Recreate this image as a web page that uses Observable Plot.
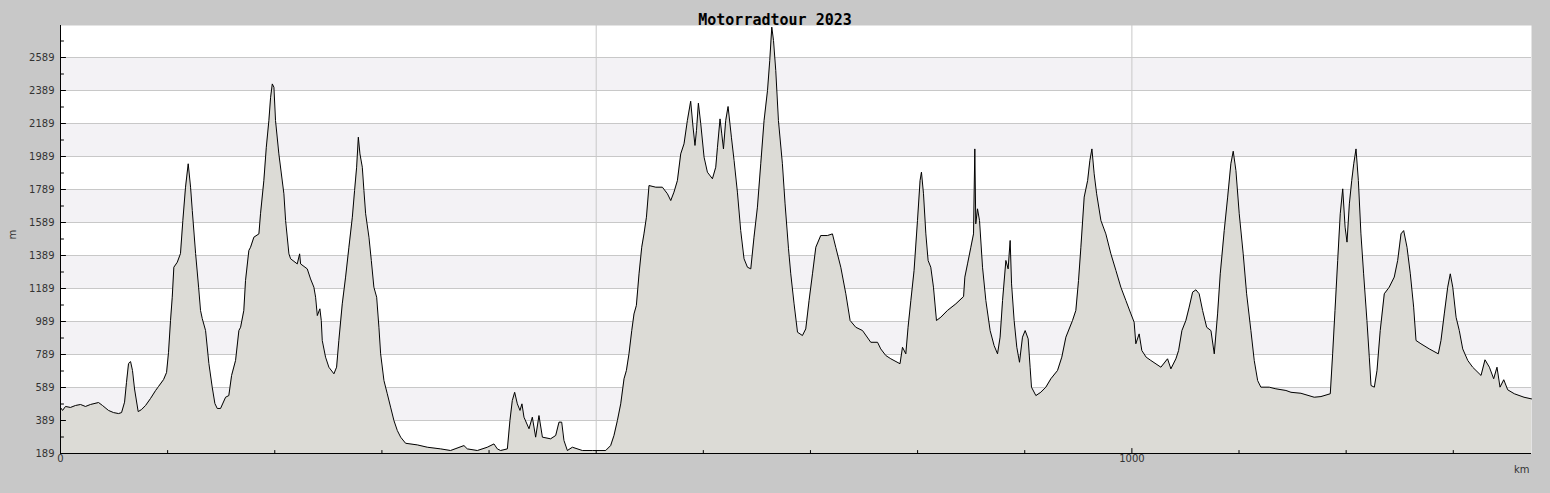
<!DOCTYPE html>
<html><head><meta charset="utf-8">
<script src="https://cdn.jsdelivr.net/npm/d3@7"></script>
<script src="https://cdn.jsdelivr.net/npm/@observablehq/plot@0.6"></script>
<style>
html,body{margin:0;padding:0;background:#c8c8c8;}
#chart{width:1550px;height:493px;}
</style></head><body><div id="chart"></div>
<script>
const title = "Motorradtour 2023";
const km = [0,1.9,4.7,9.3,14.0,18.7,23.3,28.0,35.5,39.2,44.8,49.5,54.2,57.0,59.8,61.6,63.5,65.4,67.2,69.1,72.5,75.6,79.4,84.0,88.7,91.5,96.2,99.0,100.8,102.7,104.3,105.8,109.0,112.0,114.2,116.7,119.2,121.4,123.0,126.1,128.9,130.7,132.3,135.4,138.5,141.6,144.1,146.3,149.4,154.1,157.1,159.7,163.4,166.5,168.1,171.1,172.7,175.8,177.4,180.5,185.2,186.7,189.8,192.1,194.5,196.1,197.7,199.2,200.7,203.8,208.5,210.1,213.2,214.8,221.0,223.2,224.1,
230.3,233.4,236.5,238.1,239.7,242.1,243.4,244.3,247.4,250.5,255.2,257.7,259.8,263.0,266.1,269.2,272.4,274.5,276.4,278.0,279.5,281.7,283.2,284.8,287.9,290.1,292.5,295.1,297.2,298.8,301.9,305.0,308.1,311.2,314.4,317.5,322.1,333.1,342.4,354.8,364.1,376.6,379.7,389.1,398.4,404.6,407.7,410.8,417.1,419.5,421.7,423.9,426.4,428.9,430.7,432.6,437.3,440.4,443.5,446.6,449.8,457.5,
462.2,465.3,467.8,469.9,473.1,477.8,487.1,496.4,508.9,513.5,516.6,519.8,522.9,526.0,528.2,530.6,533.2,535.3,537.5,540.0,542.5,544.6,546.9,549.3,555.6,561.8,566.5,569.6,572.6,575.8,578.9,582.0,585.1,588.2,590.4,592.2,593.6,595.4,597.6,600.7,603.8,608.5,611.6,613.2,615.6,617.2,618.8,620.9,623.1,626.2,628.7,631.8,634.9,638.0,641.2,644.3,647.3,650.5,653.6,656.7,659.9,662.0,663.9,665.5,667.6,670.1,673.8,676.3,679.5,
681.6,684.7,687.9,692.5,695.6,698.7,701.9,705.0,709.6,715.9,720.5,723.6,728.3,733.0,737.0,742.3,748.6,756.3,762.6,765.6,770.3,775.0,783.6,785.9,789.0,791.1,793.7,796.7,799.9,802.3,803.6,805.5,807.7,809.8,812.3,814.8,817.6,821.7,827.9,835.7,842.9,844.1,846.6,849.7,852.2,853.4,854.3,855.9,857.8,860.6,863.7,867.7,871.4,874.6,877.0,879.3,882.4,884.5,886.4,887.7,890.1,892.6,895.1,897.9,900.4,903.2,905.0,906.3,910.4,915.0,
919.7,924.4,930.6,934.6,938.4,944.6,947.7,950.2,952.4,955.5,958.7,960.8,962.7,964.8,967.1,971.1,975.7,980.4,985.1,989.7,994.4,999.1,1002.1,1003.7,1006.8,1009.3,1013.3,1017.7,1027.1,1033.3,1036.4,1041.1,1043.6,1046.7,1050.4,1053.5,1056.7,1059.8,1062.8,1066.0,1069.8,1073.8,1076.9,1080.0,1082.5,1086.2,1089.4,1092.4,1094.6,1097.1,1100.2,1103.9,1107.1,1111.1,1114.2,1117.4,1120.4,1128.2,1134.4,1143.8,
1148.5,1157.8,1170.2,1176.5,1185.2,1187.4,1189.6,1192.1,1194.5,1196.8,1199.0,1200.8,1203.0,1205.2,1207.1,1209.2,1211.4,1213.8,1216.3,1219.4,1221.6,1223.2,1226.3,1228.8,1231.8,1235.6,1240.2,1244.9,1248.1,1251.2,1253.7,1256.8,1259.9,1263.0,1265.2,1269.8,1277.6,1286.0,1288.5,1291.6,1294.8,1297.2,1299.5,1302.6,1305.6,1308.8,1313.5,1318.1,1325.9,1329.6,1333.7,1337.7,1340.8,1343.6,1347.1,1350.8,1357.0,1366.0,1373.0];
const elevation = [468,450,474,468,480,486,474,486,498,480,450,437,431,437,500,620,734,746,692,580,443,455,480,522,570,595,637,680,800,995,1136,1318,1348,1401,1601,1803,1945,1803,1662,1401,1197,1056,1007,934,734,591,492,462,462,530,540,662,753,934,954,1056,1237,1419,1439,1500,1520,1642,1843,2045,2207,2348,2429,2409,2207,2005,1763,1601,1399,1369,1338,1399,1338,
1308,1247,1197,1136,1025,1066,995,874,773,712,672,712,874,1096,1258,1439,1621,1783,1924,2106,2005,1924,1783,1642,1500,1359,1197,1136,954,793,631,551,470,389,328,288,251,241,227,217,207,237,217,207,227,247,217,207,217,389,510,560,490,450,490,409,339,409,288,419,288,278,
298,379,379,268,207,227,207,207,207,237,298,389,490,642,692,793,934,1035,1086,1278,1439,1520,1621,1813,1803,1803,1763,1722,1773,1843,2005,2066,2207,2324,2167,2056,2146,2312,2187,1985,1894,1854,1924,2045,2217,2126,2035,2207,2292,2106,1965,1773,1540,1369,1318,1308,1500,1682,1945,2207,2389,2571,2773,2692,2510,2207,1945,1702,1430,
1278,1096,924,904,944,1116,1278,1439,1510,1510,1520,1439,1318,1157,995,954,934,863,863,823,783,763,733,833,793,954,1116,1298,1601,1843,1894,1763,1520,1359,1318,1197,995,1015,1056,1096,1140,1258,1338,1439,1520,2035,1581,1672,1601,1318,1116,934,843,793,894,1116,1359,1308,1480,1217,995,833,742,894,934,884,712,591,540,560,
591,642,692,773,894,995,1056,1237,1439,1743,1843,1965,2035,1884,1763,1601,1520,1399,1298,1197,1116,1035,985,854,914,813,773,753,712,763,702,763,813,934,995,1076,1167,1181,1157,1056,954,934,793,1035,1278,1540,1743,1945,2021,1904,1642,1399,1157,934,753,631,591,591,581,571,
560,554,530,534,551,793,1056,1359,1642,1793,1561,1470,1702,1843,1945,2035,1843,1520,1278,995,773,601,591,692,934,1157,1197,1258,1359,1520,1540,1439,1278,1076,874,854,823,793,874,1035,1197,1278,1197,1015,934,823,753,712,662,757,712,642,712,591,636,575,551,530,520];
const xDomain = [0, 1373];
const yDomain = [189, 2783];
const yTickValues = [189,389,589,789,989,1189,1389,1589,1789,1989,2189,2389,2589];
const yMinorTicks = [289,489,689,889,1089,1289,1489,1689,1889,2089,2289,2489,2689];
const bands = [[389,589],[789,989],[1189,1389],[1589,1789],[1989,2189],[2389,2589]];
const xLabels = [0, 1000];
const xMinorTicks = [100,200,300,400,500,600,700,800,900,1100,1200,1300];
const xGrid = [500, 1000];

const data = km.map((k, i) => ({km: k, m: elevation[i]}));

// plain line tick shapes for vector marks
const tickRight = {draw(context, l) { context.moveTo(0, 0); context.lineTo(l, 0); }};
const tickUp = {draw(context, l) { context.moveTo(0, 0); context.lineTo(0, -l); }};

const chart = Plot.plot({
  width: 1550, height: 493,
  marginTop: 25, marginLeft: 60, marginRight: 19, marginBottom: 40,
  style: {background: "#c8c8c8", fontFamily: "DejaVu Sans", fontSize: "10px", color: "#333"},
  x: {domain: xDomain, axis: null},
  y: {domain: yDomain, axis: null},
  marks: [
    Plot.frame({fill: "white", stroke: "none"}),
    Plot.rect(bands, {x1: xDomain[0], x2: xDomain[1], y1: d => d[0], y2: d => d[1], fill: "#f3f2f5"}),
    Plot.ruleY(yTickValues, {stroke: "#c8c8c8"}),
    Plot.ruleX(xGrid, {stroke: "#c8c8c8"}),
    Plot.areaY(data, {x: "km", y: "m", fill: "#dcdbd6", clip: true}),
    Plot.lineY(data, {x: "km", y: "m", stroke: "black", strokeWidth: 1}),
    Plot.ruleX([xDomain[0]], {stroke: "black"}),
    Plot.ruleY([yDomain[0]], {stroke: "black"}),
    Plot.vector(yTickValues, {y: d => d, frameAnchor: "left", length: 5, anchor: "start", shape: tickRight, stroke: "black", strokeWidth: 1}),
    Plot.vector(yMinorTicks, {y: d => d, frameAnchor: "left", length: 3, anchor: "start", shape: tickRight, stroke: "black", strokeWidth: 1}),
    Plot.vector(xLabels, {x: d => d, frameAnchor: "bottom", length: 5, anchor: "start", shape: tickUp, stroke: "black", strokeWidth: 1}),
    Plot.vector(xMinorTicks, {x: d => d, frameAnchor: "bottom", length: 3, anchor: "start", shape: tickUp, stroke: "black", strokeWidth: 1}),
    Plot.text(yTickValues, {y: d => d, text: d => String(d), frameAnchor: "left", dx: -6, textAnchor: "end", fill: "#333", fontSize: 10}),
    Plot.text(xLabels, {x: d => d, text: d => String(d), frameAnchor: "bottom", dy: 8, fill: "#333", fontSize: 10}),
    Plot.text(["m"], {frameAnchor: "left", dx: -48, rotate: -90, fill: "#333", fontSize: 10}),
    Plot.text(["km"], {frameAnchor: "bottom-right", dx: -2, dy: 19, textAnchor: "end", fill: "#333", fontSize: 10}),
    Plot.text([title], {frameAnchor: "top", dx: -21, dy: -11, fontFamily: "DejaVu Sans Mono", fontSize: 15, fontWeight: "bold", fill: "black"})
  ]
});
document.getElementById("chart").appendChild(chart);
</script></body></html>
